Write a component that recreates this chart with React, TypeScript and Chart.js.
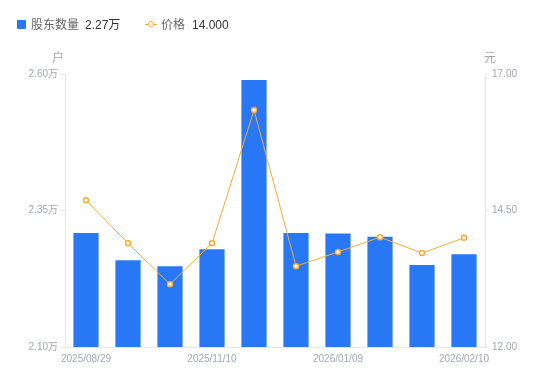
import React, { useEffect, useRef } from "react";
import { Chart, registerables } from "chart.js";

Chart.register(...registerables);

const dates = [
  "2025/08/29", "2025/09/19", "2025/10/20", "2025/11/10", "2025/11/28",
  "2025/12/19", "2026/01/09", "2026/01/20", "2026/01/30", "2026/02/10",
];
const holders = [23090, 22590, 22480, 22790, 25890, 23090, 23080, 23020, 22500, 22700];
const prices = [14.69, 13.9, 13.15, 13.9, 16.34, 13.48, 13.74, 14.01, 13.72, 14.0];
const shownLabelIdx = [0, 3, 6, 9];
const leftTicks = [21000, 23500, 26000];
const rightTicks = [12, 14.5, 17];

const FONT = "'Liberation Sans', 'Noto Sans CJK SC', sans-serif";
const TICK_COLOR = "#a3a5b3";
const AXIS_COLOR = "#e6e6ea";
const BAR_COLOR = "#2878f5";
const LINE_COLOR = "#f8ab35";

export default function App() {
  const ref = useRef<HTMLCanvasElement | null>(null);
  useEffect(() => {
    if (!ref.current) return;
    const titlePlugin = {
      id: "axisTitles",
      afterDraw(chart: any) {
        const ctx = chart.ctx;
        const a = chart.chartArea;
        ctx.save();
        ctx.font = `12px ${FONT}`;
        ctx.fillStyle = TICK_COLOR;
        ctx.textAlign = "center";
        ctx.textBaseline = "middle";
        ctx.fillText("户", a.left - 7, a.top - 15);
        ctx.fillText("元", a.right + 5, a.top - 15);
        ctx.restore();
      },
    };
    const chart = new Chart(ref.current, {
      data: {
        labels: dates,
        datasets: [
          {
            type: "line",
            label: "价格",
            data: prices,
            yAxisID: "y1",
            borderColor: LINE_COLOR,
            borderWidth: 1,
            pointRadius: 2.5,
            pointBorderWidth: 1.5,
            pointBackgroundColor: "#ffffff",
            pointBorderColor: LINE_COLOR,
            tension: 0,
            order: 0,
          },
          {
            type: "bar",
            label: "股东数量",
            data: holders,
            yAxisID: "y",
            backgroundColor: BAR_COLOR,
            categoryPercentage: 1,
            barPercentage: 0.6,
            order: 1,
          },
        ],
      } as any,
      options: {
        responsive: false,
        animation: false,
        layout: { padding: { top: 74, left: 0, right: 0, bottom: 0 } },
        plugins: { legend: { display: false }, tooltip: { enabled: false } },
        scales: {
          x: {
            grid: { display: false, drawTicks: false },
            border: { display: true, color: AXIS_COLOR },
            ticks: {
              autoSkip: false,
              maxRotation: 0,
              color: TICK_COLOR,
              font: { size: 10, family: FONT },
              padding: 6,
              callback: (_v: any, i: number) => (shownLabelIdx.includes(i) ? dates[i] : ""),
            },
            afterFit: (s: any) => { s.height = 34; },
          },
          y: {
            position: "left",
            min: 21000,
            max: 26000,
            afterBuildTicks: (s: any) => { s.ticks = leftTicks.map((v) => ({ value: v })); },
            grid: { drawOnChartArea: false, drawTicks: true, tickLength: 4, color: AXIS_COLOR },
            border: { display: true, color: AXIS_COLOR },
            ticks: {
              color: TICK_COLOR,
              font: { size: 10, family: FONT },
              padding: 3,
              callback: (v: any) => (Number(v) / 10000).toFixed(2) + "万",
            },
            afterFit: (s: any) => { s.width = 65; },
          },
          y1: {
            position: "right",
            min: 12,
            max: 17,
            afterBuildTicks: (s: any) => { s.ticks = rightTicks.map((v) => ({ value: v })); },
            grid: { drawOnChartArea: false, drawTicks: true, tickLength: 4, color: AXIS_COLOR },
            border: { display: true, color: AXIS_COLOR },
            ticks: {
              color: TICK_COLOR,
              font: { size: 10, family: FONT },
              padding: 3,
              callback: (v: any) => Number(v).toFixed(2),
            },
            afterFit: (s: any) => { s.width = 65; },
          },
        },
      } as any,
      plugins: [titlePlugin],
    });
    return () => chart.destroy();
  }, []);

  const labelStyle: React.CSSProperties = { position: "absolute", top: 17, fontSize: 12, color: "#666", fontFamily: FONT, lineHeight: "16px" };
  const valueStyle: React.CSSProperties = { ...labelStyle, color: "#333" };
  return (
    <div style={{ position: "fixed", left: 0, top: 0, width: 550, height: 381, background: "#fff" }}>
      <canvas ref={ref} width={550} height={381} style={{ position: "absolute", left: 0, top: 0 }} />
      <div style={{ position: "absolute", left: 17, top: 20, width: 9, height: 9, background: BAR_COLOR, borderRadius: 1 }} />
      <span style={{ ...labelStyle, left: 31 }}>股东数量</span>
      <span style={{ ...valueStyle, left: 85 }}>{(holders[holders.length - 1] / 10000).toFixed(2)}万</span>
      <div style={{ position: "absolute", left: 145, top: 24, width: 12, height: 1, background: LINE_COLOR }} />
      <div style={{ position: "absolute", left: 147.5, top: 21, width: 4, height: 4, border: `1.5px solid ${LINE_COLOR}`, borderRadius: "50%", background: "#fff" }} />
      <span style={{ ...labelStyle, left: 161 }}>价格</span>
      <span style={{ ...valueStyle, left: 192 }}>{prices[prices.length - 1].toFixed(3)}</span>
    </div>
  );
}
